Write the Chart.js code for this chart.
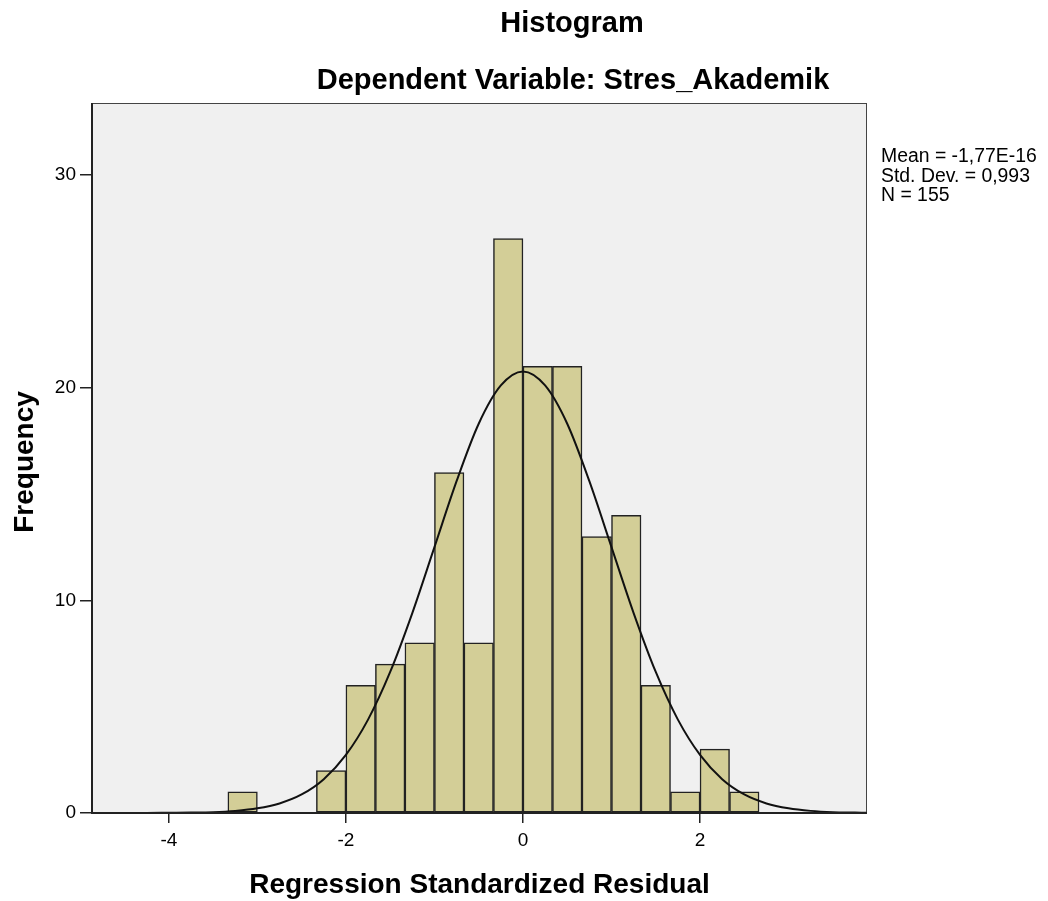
<!DOCTYPE html>
<html>
<head>
<meta charset="utf-8">
<script src="https://cdn.jsdelivr.net/npm/chart.js@4/dist/chart.umd.min.js"></script>
<style>
html,body{margin:0;padding:0;background:#fff;}
#wrap{width:1048px;height:901px;position:relative;}
</style>
</head>
<body>
<div id="wrap"><canvas id="c" width="1048" height="901"></canvas></div>
<script>
// ---- data ----
const binCenters = [-3.1667, -2.8333, -2.5, -2.1667, -1.8333, -1.5, -1.1667, -0.8333, -0.5, -0.1667,
                    0.1667, 0.5, 0.8333, 1.1667, 1.5, 1.8333, 2.1667, 2.5];
const binCounts  = [1, 0, 0, 2, 6, 7, 8, 16, 8, 27, 21, 21, 13, 14, 6, 1, 3, 1];
const curveX = [-4.87, -4.5, -4.25, -4, -3.75, -3.5, -3.25, -3, -2.75, -2.5, -2.25, -2, -1.75, -1.5, -1.25, -1, -0.75, -0.5, -0.25,
                0, 0.25, 0.5, 0.75, 1, 1.25, 1.5, 1.75, 2, 2.25, 2.5, 2.75, 3, 3.25, 3.5, 3.75, 3.88];
const curveY = [0, 0, 0, 0.01, 0.02, 0.04, 0.1, 0.22, 0.45, 0.87, 1.59, 2.73, 4.39, 6.63, 9.4, 12.5, 15.6, 18.3, 20.1,
                20.76, 20.1, 18.3, 15.6, 12.5, 9.4, 6.63, 4.39, 2.73, 1.59, 0.87, 0.45, 0.22, 0.1, 0.04, 0.02, 0.01];
const xTickValues = [-4, -2, 0, 2];
const yTickValues = [0, 10, 20, 30];
const titleText = 'Histogram';
const subtitleText = 'Dependent Variable: Stres_Akademik';
const xTitle = 'Regression Standardized Residual';
const yTitle = 'Frequency';
const statsLines = ['Mean = -1,77E-16', 'Std. Dev. = 0,993', 'N = 155'];

const barData = binCenters.map((x, i) => ({x: x, y: binCounts[i]}));
const lineData = curveX.map((x, i) => ({x: x, y: curveY[i]}));

const FONT = '"Liberation Sans", Arial, sans-serif';

const decor = {
  id: 'decor',
  beforeDatasetsDraw(chart) {
    const {ctx, chartArea: a} = chart;
    ctx.save();
    ctx.fillStyle = '#f0f0f0';
    ctx.fillRect(a.left, a.top, a.right - a.left, a.bottom - a.top);
    ctx.restore();
  },
  afterDraw(chart) {
    const {ctx, chartArea: a} = chart;
    ctx.save();
    // frame
    ctx.strokeStyle = '#444';
    ctx.lineWidth = 1;
    ctx.strokeRect(a.left + 0.5, a.top + 0.5, a.right - a.left - 1, a.bottom - a.top - 1);
    ctx.strokeStyle = '#222';
    ctx.lineWidth = 2;
    ctx.beginPath();
    ctx.moveTo(a.left, a.top);
    ctx.lineTo(a.left, a.bottom);
    ctx.lineTo(a.right, a.bottom);
    ctx.stroke();
    // titles
    ctx.fillStyle = '#000';
    ctx.textAlign = 'center';
    ctx.textBaseline = 'alphabetic';
    ctx.font = 'bold 29px ' + FONT;
    ctx.fillText(titleText, 572, 32);
    ctx.fillText(subtitleText, 573, 89);
    ctx.font = 'bold 28px ' + FONT;
    ctx.fillText(xTitle, (a.left + a.right) / 2, 893);
    ctx.save();
    ctx.translate(33, (a.top + a.bottom) / 2 + 4);
    ctx.rotate(-Math.PI / 2);
    ctx.fillText(yTitle, 0, 0);
    ctx.restore();
    // stats
    ctx.textAlign = 'left';
    ctx.font = '19.4px ' + FONT;
    statsLines.forEach((s, i) => ctx.fillText(s, 881, 162 + i * 19.5));
    ctx.restore();
  }
};

new Chart(document.getElementById('c'), {
  type: 'bar',
  data: {
    datasets: [
      {
        type: 'line',
        data: lineData,
        borderColor: '#111',
        borderWidth: 2,
        pointRadius: 0,
        fill: false,
        cubicInterpolationMode: 'monotone',
        order: 0
      },
      {
        type: 'bar',
        data: barData,
        backgroundColor: '#d3ce97',
        borderColor: '#222',
        borderWidth: 1.5,
        borderSkipped: false,
        barPercentage: 1,
        categoryPercentage: 1,
        grouped: false,
        order: 1
      }
    ]
  },
  options: {
    responsive: false,
    animation: false,
    devicePixelRatio: 1,
    layout: {padding: {left: 0, right: 181, top: 103, bottom: 0}},
    plugins: {legend: {display: false}, tooltip: {enabled: false}, title: {display: false}},
    scales: {
      x: {
        type: 'linear',
        min: -4.868,
        max: 3.886,
        offset: false,
        afterBuildTicks: s => { s.ticks = xTickValues.map(v => ({value: v})); },
        afterFit: s => { s.height = 88; },
        grid: {display: true, offset: false, drawOnChartArea: false, drawTicks: true, tickLength: 10, color: '#222', lineWidth: 1.5},
        border: {display: false},
        ticks: {color: '#000', font: {family: FONT, size: 19}, padding: 6, maxRotation: 0}
      },
      y: {
        type: 'linear',
        min: 0,
        max: 33.38,
        afterBuildTicks: s => { s.ticks = yTickValues.map(v => ({value: v})); },
        afterFit: s => { s.width = 92; },
        grid: {display: true, offset: false, drawOnChartArea: false, drawTicks: true, tickLength: 12, color: '#222', lineWidth: 1.5},
        border: {display: false},
        ticks: {color: '#000', font: {family: FONT, size: 19}, padding: 4}
      }
    }
  },
  plugins: [decor]
});
</script>
</body>
</html>
